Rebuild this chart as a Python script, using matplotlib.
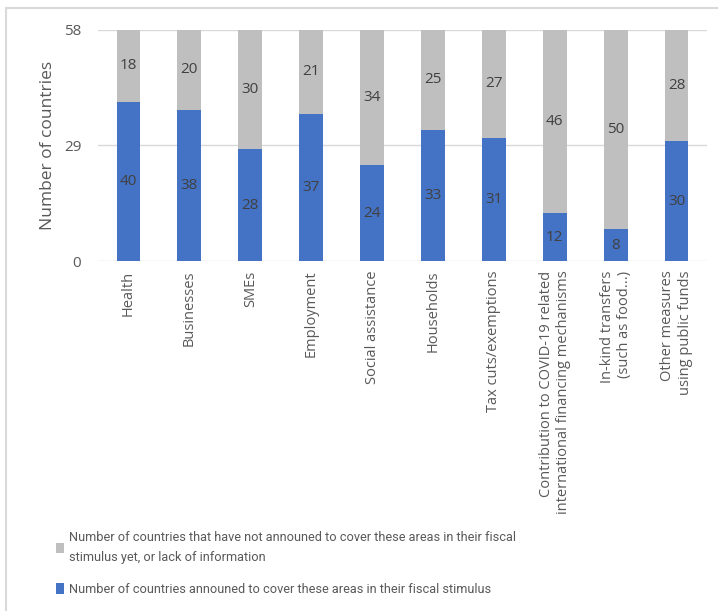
import numpy as np
import matplotlib.pyplot as plt
from matplotlib import font_manager
from matplotlib.patches import Rectangle

# categories and values
categories = [
    "Health",
    "Businesses",
    "SMEs",
    "Employment",
    "Social assistance",
    "Households",
    "Tax cuts/exemptions",
    "Contribution to COVID-19 related\ninternational financing mechanisms",
    "In-kind transfers\n(such as food...)",
    "Other measures\nusing public funds",
]
announced = [40, 38, 28, 37, 24, 33, 31, 12, 8, 30]
not_announced = [18, 20, 30, 21, 34, 25, 27, 46, 50, 28]
yticks = [0, 29, 58]

label_announced = "Number of countries announed to cover these areas in their fiscal stimulus"
label_not = ("Number of countries that have not announed to cover these areas in their fiscal\n"
             "stimulus yet, or lack of information")

blue = "#4472C4"
gray = "#BFBFBF"
txt = "#595959"

plt.rcParams["font.family"] = ["Open Sans", "DejaVu Sans"]

# narrow font for the legend if one is around
legend_prop = {"family": ["Roboto", "DejaVu Sans"], "size": 9.2}
for f in font_manager.fontManager.ttflist:
    if f.name == "Liberation Sans Narrow" and f.weight in (400, "normal", "regular") and f.style == "normal":
        legend_prop = {"fname": f.fname, "size": 12}
        break

fig = plt.figure(figsize=(7.18, 6.11), dpi=100)
ax = fig.add_axes([0.1365, 0.5728, 0.8482, 0.3782])

x = np.arange(len(categories))
w = 0.39
b1 = ax.bar(x, announced, w, color=blue, label=label_announced, zorder=3)
b2 = ax.bar(x, not_announced, w, bottom=announced, color=gray, label=label_not, zorder=3)

# value labels in the middle of each segment
for xi, a, n in zip(x, announced, not_announced):
    ax.text(xi, a / 2, str(a), ha="center", va="center", fontsize=11, color="#404040", zorder=4)
    ax.text(xi, a + n / 2, str(n), ha="center", va="center", fontsize=11, color="#404040", zorder=4)

ax.set_xlim(-0.5, len(categories) - 0.5)
ax.set_ylim(0, 58)
ax.set_yticks(yticks)
ax.yaxis.grid(True, color="#D9D9D9", linewidth=1, zorder=0)
for s in ax.spines.values():
    s.set_visible(False)
ax.tick_params(axis="both", length=0, colors=txt, labelsize=11)
ax.tick_params(axis="y", pad=12)

ax.set_xticks(x)
ax.set_xticklabels(categories, rotation=90, ha="center", va="top",
                   multialignment="right", fontsize=10.5, color=txt)
ax.tick_params(axis="x", pad=7)
ax.set_ylabel("Number of countries", fontsize=12.5, color=txt, labelpad=6)

# legend, gray entry first
handles = [b2, b1]
labels = [label_not, label_announced]
leg = fig.legend(handles, labels, loc="upper left", bbox_to_anchor=(0.062, 0.15),
                 frameon=False, handlelength=0.6, handleheight=0.9, handletextpad=0.4,
                 labelspacing=1.5, prop=legend_prop)
for t in leg.get_texts():
    t.set_color(txt)
    t.set_linespacing(1.7)

# chart frame (right and bottom edges fall outside the picture)
fig.patches.append(Rectangle((0.009, -0.05), 1.1, 1.037, transform=fig.transFigure,
                             fill=False, edgecolor="#D9D9D9", linewidth=1.5))

fig.savefig("out.png", dpi=100)
